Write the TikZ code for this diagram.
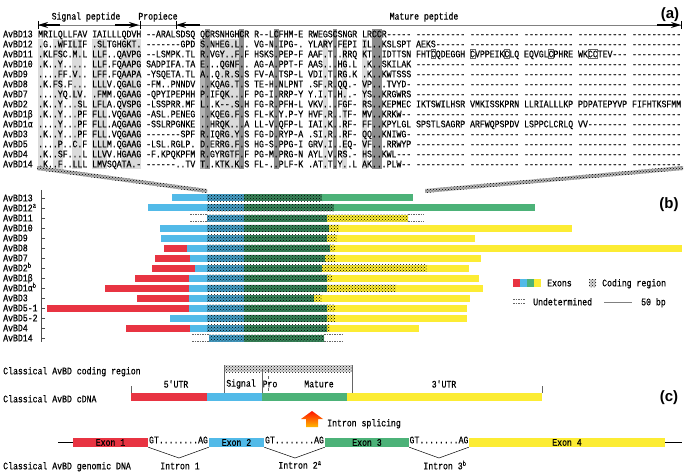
\documentclass[tikz,border=0pt]{standalone}
\usepackage{fontspec}
\setmonofont{Liberation Mono}[FakeStretch=0.818,FakeBold=0.5]
\newfontfamily\panelfont{Liberation Sans}
\usetikzlibrary{arrows.meta,patterns}
\definecolor{exred}{RGB}{232,52,66}
\definecolor{exblue}{RGB}{82,186,232}
\definecolor{exgreen}{RGB}{76,178,120}
\definecolor{exyellow}{RGB}{252,236,52}
\newcommand{\exseg}[4]{\path[#4](#2,#1-3.5)rectangle(#3,#1+3.5);}
\newcommand{\exund}[3]{\path[undet](#2,#1-3.5)--(#3,#1-3.5)(#2,#1+3.5)--(#3,#1+3.5);}

\begin{document}
\begin{tikzpicture}[x=1pt,y=-1pt,
    mono/.style={font=\ttfamily\fontsize{10}{12}\selectfont\frenchspacing, inner sep=0pt},
    lab/.style={mono, anchor=base west, yshift=-3.3pt},
    panel/.style={font=\panelfont\bfseries\fontsize{15}{15}\selectfont, inner sep=0pt},
    speckle/.style={postaction={pattern=crosshatch dots, pattern color=black}},
    cblue/.style={fill=exblue!85!black, speckle},
    cgreen/.style={fill=exgreen!75!black, speckle},
    cyellow/.style={fill=exyellow, speckle},
    undet/.style={draw=black!60, dash pattern=on 1.5pt off 1pt, line width=0.4pt},
    band/.style={fill=black!30, speckle},
    exon/.style={mono, minimum height=9pt, inner sep=0pt},
    headarrow/.style={draw, line width=1.4pt, -{Stealth[length=10pt,width=6pt]}}]
\useasboundingbox (0,0) rectangle (685,473);

% (a) alignment shading
\foreach \k in {0,3,4,7,8,11,12,13,17,18,19,20,37,38,39,40,58,62,66}
    \fill[black!14] ({38+4.909*\k},39) rectangle ++(4.909,130);
\fill[black!30] ({38+4.909*33},39) rectangle ++(4.909,130);
\foreach \k in {34,41,48,60,68,69}
    \fill[black!45] ({38+4.909*\k},29) rectangle ++(4.909,140);

% header
\path[draw, black!50, line width=0.3pt] (38,25) -- (681,25);
\foreach \x in {38,140,176,681}
    \path[draw, line width=0.4pt] (\x,21) -- (\x,29);
\path[headarrow] (60,25) -- (38,25);
\path[headarrow] (115,25) -- (139,25);
\path[headarrow] (200,25) -- (176,25);
\path[headarrow] (657,25) -- (681,25);
\node[mono] (hsig) at (86,17) {Signal peptide};
\node[mono] (hpro) at (158,17) {Propiece};
\node[mono] (hmat) at (424,17) {Mature peptide};
\node[panel] (pa) at (670,15) {(a)};

% sequences
\node[lab] (n13) at (3,34) {AvBD13};
\node[lab] (s13) at (38,34) {MRILQLLFAV IAILLLQDVH --ARALSDSQ QCRSNHGHCR R--LCFHM-E RWEGSCSNGR LRCCR----- ---------- ---------- ---------- ---------- ----------};
\node[lab] (n12) at (3,44) {AvBD12};
\node[lab] (s12) at (38,44) {.G..WFILIF .SLTGHGKT. -------GPD S.NHEG.L.. VG-N.IPG-. YLARY.FEPI IL..KSLSPT AEKS------ ---------- ---------- ---------- ----------};
\node[lab] (n11) at (3,54) {AvBD11};
\node[lab] (s11) at (38,54) {.KLFSC.M.L LLF..QAVPG --LSMPK.TL R.VGY..F.F HSKS.PEP-F AAF.T..RRQ KT..IDTTSN FHTCQDEGGH CVPPEIKCLQ EQVGLCPHRE WKCCTEV--- ----------};
\node[lab] (n10) at (3,64) {AvBD10};
\node[lab] (s10) at (38,64) {.K..Y..... LLF.FQAAPG SADPIFA.TA E...QGNF.. AG-A.PPT-F AAS...HG.L .K..SKILAK ---------- ---------- ---------- ---------- ----------};
\node[lab] (n9) at (3,74) {AvBD9};
\node[lab] (s9) at (38,74) {....FF.V.. LFF.FQAAPA -YSQETA.TL A..Q.R.S.S FV-A.TSP-L VDI.T.RG.K .K..KWTSSS ---------- ---------- ---------- ---------- ----------};
\node[lab] (n8) at (3,84) {AvBD8};
\node[lab] (s8) at (38,84) {.K.FS.F... LLLV.QGALG -FM..PNNDV ..KQAG.T.S TE-H.NLPNT .SF.R.QQ.- VP...TVYD- ---------- ---------- ---------- ---------- ----------};
\node[lab] (n7) at (3,94) {AvBD7};
\node[lab] (s7) at (38,94) {....YQ.LV. .FMM.QGAAG -QPYIPEPHH P.IFQK...F PG-I.RRP-Y Y.I.T.H..- YS..KRGWRS ---------- ---------- ---------- ---------- ----------};
\node[lab] (n2) at (3,104) {AvBD2};
\node[lab] (s2) at (38,104) {.K..Y...SL LFLA.QVSPG -LSSPRR.MF L..K--.S.H FG-R.PFH-L VKV...FGF- RS..KEPMEC IKTSWILHSR VMKISSKPRN LLRIALLLKP PDPATEPYVP FIFHTKSFMM};
\node[lab] (n1b) at (3,114) {AvBD1β};
\node[lab] (s1b) at (38,114) {.K..Y...PF FLL.VQGAAG -ASL.PENEG ..KQEG.F.S FL-K.Y.P-Y HVF.R..TF- MV..KRKW-- ---------- ---------- ---------- ---------- ----------};
\node[lab] (n1a) at (3,124) {AvBD1α};
\node[lab] (s1a) at (38,124) {....Y...PF FLL.AQGAAG -SSLRPGNKE ..HRQK...A LL-V.QFP-L IAI.K..RF- FF..KPYLGL SPSTLSAGRP ARFWQPSPDV LSPPCLCRLQ VV-------- ----------};
\node[lab] (n3) at (3,134) {AvBD3};
\node[lab] (s3) at (38,134) {.K..Y...PF FLL.VQGAAG -------SPF R.IQRG.Y.S FG-D.RYP-A .SI.R..RF- QQ..KNIWG- ---------- ---------- ---------- ---------- ----------};
\node[lab] (n5) at (3,144) {AvBD5};
\node[lab] (s5) at (38,144) {....P..C.F LLLM.QGAAG -LSL.RGLP. D.ERRG.F.S HG-S.PPG-I GRV.I..EQ- VF...RRWYP ---------- ---------- ---------- ---------- ----------};
\node[lab] (n4) at (3,154) {AvBD4};
\node[lab] (s4) at (38,154) {.K..SF...L LLVV.HGAAG -F.KPQKPFM R.GYRGTF.F PG-M.PRG-N AYL.V.RS.- HS..KWL--- ---------- ---------- ---------- ---------- ----------};
\node[lab] (n14) at (3,164) {AvBD14};
\node[lab] (s14) at (38,164) {.K..F..LLL LMVSQATA.- ------..TV T..KTK.K.S FL-..PLF-K .AT.T.Y..L AK...PLW-- ---------- ---------- ---------- ---------- ----------};

% boxed cysteines
\foreach \k/\w in {80/1,88/1,95/1,104/1,112/2}
    \path[draw, black!60, line width=0.4pt] ({38+4.909*\k},49.5) rectangle ++({4.909*\w},9);

% bands to (b)
\fill[band] (37,166) -- (207,189) -- (207,193) -- (37,170) -- cycle;
\fill[band] (425,189) -- (683,166) -- (683,170) -- (425,193) -- cycle;

% (b) axis
\path[draw, black!70] (41,190) -- (41,342);
\foreach \i in {0,...,14}
    \path[draw, black!70] (41,198+10*\i) -- (45,198+10*\i);
\node[lab] (b13) at (3,198) {AvBD13};
\node[lab] (b12) at (3,208) {AvBD12\textsuperscript{a}};
\node[lab] (b11) at (3,218) {AvBD11};
\node[lab] (b10) at (3,228) {AvBD10};
\node[lab] (b9) at (3,238) {AvBD9};
\node[lab] (b8) at (3,248) {AvBD8};
\node[lab] (b7) at (3,258) {AvBD7};
\node[lab] (b2) at (3,268) {AvBD2\textsuperscript{b}};
\node[lab] (b1b) at (3,278) {AvBD1β};
\node[lab] (b1a) at (3,288) {AvBD1α\textsuperscript{b}};
\node[lab] (b3) at (3,298) {AvBD3};
\node[lab] (b51) at (3,308) {AvBD5-1};
\node[lab] (b52) at (3,318) {AvBD5-2};
\node[lab] (b4) at (3,328) {AvBD4};
\node[lab] (b14) at (3,338) {AvBD14};
\node[panel] (pb) at (669,205) {(b)};

% gene bars
\exseg{198}{172}{207}{fill=exblue}\exseg{198}{207}{244}{cblue}\exseg{198}{244}{322}{cgreen}\exseg{198}{322}{413}{fill=exgreen}
\exseg{208}{148}{207}{fill=exblue}\exseg{208}{207}{244}{cblue}\exseg{208}{244}{334}{cgreen}\exseg{208}{334}{535}{fill=exgreen}
\exund{218}{190}{207}\exseg{218}{207}{244}{cblue}\exseg{218}{244}{327}{cgreen}\exseg{218}{327}{408}{cyellow}\exund{218}{408}{424}
\exseg{228}{160}{207}{fill=exblue}\exseg{228}{207}{244}{cblue}\exseg{228}{244}{329}{cgreen}\exseg{228}{329}{339}{cyellow}\exseg{228}{339}{572}{fill=exyellow}
\exseg{238}{161}{207}{fill=exblue}\exseg{238}{207}{244}{cblue}\exseg{238}{244}{327}{cgreen}\exseg{238}{327}{337}{cyellow}\exseg{238}{337}{475}{fill=exyellow}
\exseg{248}{164}{187}{fill=exred}\exseg{248}{187}{207}{fill=exblue}\exseg{248}{207}{244}{cblue}\exseg{248}{244}{330}{cgreen}\exseg{248}{330}{335}{cyellow}\exseg{248}{335}{682}{fill=exyellow}
\exseg{258}{155}{190}{fill=exred}\exseg{258}{190}{207}{fill=exblue}\exseg{258}{207}{244}{cblue}\exseg{258}{244}{325}{cgreen}\exseg{258}{325}{335}{cyellow}\exseg{258}{335}{481}{fill=exyellow}
\exseg{268}{152}{195}{fill=exred}\exseg{268}{195}{207}{fill=exblue}\exseg{268}{207}{244}{cblue}\exseg{268}{244}{322}{cgreen}\exseg{268}{322}{427}{cyellow}\exseg{268}{427}{469}{fill=exyellow}
\exseg{278}{135}{189}{fill=exred}\exseg{278}{189}{207}{fill=exblue}\exseg{278}{207}{244}{cblue}\exseg{278}{244}{327}{cgreen}\exseg{278}{327}{332}{cyellow}\exseg{278}{332}{479}{fill=exyellow}
\exseg{288}{105}{189}{fill=exred}\exseg{288}{189}{207}{fill=exblue}\exseg{288}{207}{244}{cblue}\exseg{288}{244}{327}{cgreen}\exseg{288}{327}{396}{cyellow}\exseg{288}{396}{483}{fill=exyellow}
\exseg{298}{137}{189}{fill=exred}\exseg{298}{189}{207}{fill=exblue}\exseg{298}{207}{244}{cblue}\exseg{298}{244}{314}{cgreen}\exseg{298}{314}{322}{cyellow}\exseg{298}{322}{470}{fill=exyellow}
\exseg{308}{47}{189}{fill=exred}\exseg{308}{189}{207}{fill=exblue}\exseg{308}{207}{244}{cblue}\exseg{308}{244}{327}{cgreen}\exseg{308}{327}{335}{cyellow}\exseg{308}{335}{467}{fill=exyellow}
\exseg{318}{170}{207}{fill=exblue}\exseg{318}{207}{244}{cblue}\exseg{318}{244}{327}{cgreen}\exseg{318}{327}{335}{cyellow}\exseg{318}{335}{467}{fill=exyellow}
\exseg{328}{126}{190}{fill=exred}\exseg{328}{190}{207}{fill=exblue}\exseg{328}{207}{244}{cblue}\exseg{328}{244}{327}{cgreen}\exseg{328}{327}{330}{cyellow}\exseg{328}{330}{419}{fill=exyellow}
\exund{338}{192}{209}\exseg{338}{209}{244}{cblue}\exseg{338}{244}{324}{cgreen}\exund{338}{324}{342}

% legend
\fill[exred] (513,279) rectangle (520,287);
\fill[exblue] (520,279) rectangle (527,287);
\fill[exgreen] (527,279) rectangle (534,287);
\fill[exyellow] (534,279) rectangle (541,287);
\node[lab] (lexon) at (547,283) {Exons};
\path[fill=black!15, speckle] (589,279) rectangle (596,287);
\node[lab] (lcode) at (602,283) {Coding region};
\path[undet] (513,299) -- (525,299) (513,303) -- (525,303);
\node[lab] (lund) at (533,302) {Undetermined};
\path[draw, black!50] (604,302) -- (632,302);
\node[lab] (lbp) at (641,302) {50 bp};

% (c) cDNA
\node[lab] (ccode) at (3,371) {Classical AvBD coding region};
\node[lab] (ccdna) at (3,399) {Classical AvBD cDNA};
\node[lab] (cgen) at (3,466) {Classical AvBD genomic DNA};
\node[panel] (pc) at (669,398) {(c)};
\path[fill=black!15, speckle] (224,365) rectangle (352,372);
\path[draw, black!60, line width=0.4pt] (224,365) -- (224,393) (352,365) -- (352,393)
    (262,370) -- (262,393) (131,386) -- (131,393) (542,386) -- (542,393);
\path[draw, black!60, line width=0.4pt, dashed] (268,370) -- (268,393);
\node[mono] (utr5) at (176,384) {5'UTR};
\node[mono] (sig) at (241,384) {Signal};
\node[mono] (pro) at (270,384) {Pro};
\node[mono] (mat) at (319,384) {Mature};
\node[mono] (utr3) at (444,384) {3'UTR};
\fill[exred] (131,393) rectangle (207,401);
\fill[exblue] (207,393) rectangle (262,401);
\fill[exgreen] (262,393) rectangle (347,401);
\fill[exyellow] (347,393) rectangle (542,401);

% splicing arrow
\shade[top color=red!85!orange, bottom color=orange!55!yellow]
    (306,427) -- (306,419) -- (301,419) -- (312,411) -- (323,419) -- (318,419) -- (318,427) -- cycle;
\node[lab] (splice) at (327,423) {Intron splicing};

% genomic DNA
\node[exon, fill=exred, minimum width=75pt] (ex1) at (110.5,442.5) {Exon 1};
\node[exon, fill=exblue, minimum width=55pt] (ex2) at (236.5,442.5) {Exon 2};
\node[exon, fill=exgreen, minimum width=84pt] (ex3) at (367,442.5) {Exon 3};
\node[exon, fill=exyellow, minimum width=196pt] (ex4) at (567,442.5) {Exon 4};
\coordinate (g0) at (58,442.5);
\coordinate (g1) at (682,442.5);
\path[draw] (g0) -- (ex1.west) (ex4.east) -- (g1);
\node[mono] (gt1) at (178.5,440) {GT........AG};
\node[mono] (gt2) at (294.5,440) {GT........AG};
\node[mono] (gt3) at (439,440) {GT........AG};
\coordinate (v1) at (179,458);
\coordinate (v2) at (295,458);
\coordinate (v3) at (439,458);
\path[draw, line width=0.5pt] (ex1.south east) -- (v1) -- (ex2.south west);
\path[draw, line width=0.5pt] (ex2.south east) -- (v2) -- (ex3.south west);
\path[draw, line width=0.5pt] (ex3.south east) -- (v3) -- (ex4.south west);
\node[mono] (in1) at (180,466) {Intron 1};
\node[mono] (in2) at (300,465) {Intron 2\textsuperscript{a}};
\node[mono] (in3) at (445,465) {Intron 3\textsuperscript{b}};
\end{tikzpicture}
\end{document}
